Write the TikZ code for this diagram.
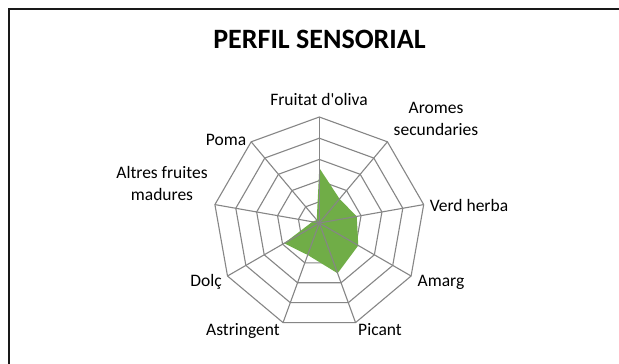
\documentclass[tikz,border=0pt]{standalone}
\usepackage{fontspec}
\setmainfont[Ligatures=TeXOff]{Carlito}
\definecolor{gridgray}{RGB}{134,134,134}
\definecolor{seriesgreen}{RGB}{112,173,71}
\definecolor{framegray}{RGB}{25,25,25}
\begin{document}
\begin{tikzpicture}[x=1pt,y=-1pt,
  gridline/.style={draw=gridgray,line width=1.1pt,line join=round},
  axlabel/.style={font=\fontsize{17.5}{21.7}\selectfont,anchor=base,align=center,inner sep=0pt},
  titlestyle/.style={font=\fontsize{28}{32}\selectfont\bfseries,anchor=base,inner sep=0pt}]
\useasboundingbox (0,0) rectangle (619,364);
\fill[white] (0,0) rectangle (619,364);
\draw[line width=2.4pt,framegray] (8.7,364) -- (8.7,9) -- (619,9);
\node[titlestyle] (title) at (319.5,48.3) {PERFIL SENSORIAL};
\coordinate (c) at (319.3,223);
\begin{scope}[shift={(c)}]
  \foreach \k in {1,...,5} {
    \draw[gridline] (-90:\k*21.2) \foreach \i in {1,...,8}{ -- (\i*40-90:\k*21.2)} -- cycle;
  }
  \foreach \i in {0,...,8} {
    \coordinate (a\i) at (\i*40-90:106);
  }
  \coordinate (d0) at (-90:55);
  \coordinate (d1) at (-50:31.5);
  \coordinate (d2) at (-10:38);
  \coordinate (d3) at (30:45);
  \coordinate (d4) at (70:53.5);
  \coordinate (d5) at (110:34);
  \coordinate (d6) at (150:40.6);
  \coordinate (d7) at (190:7);
  \coordinate (d8) at (230:4);
\end{scope}
\fill[seriesgreen] (d0) -- (d1) -- (d2) -- (d3) -- (d4) -- (d5) -- (d6) -- (d7) -- (d8) -- cycle;
\foreach \i in {0,...,8} {
  \draw[gridline] (c) -- (a\i);
}
\node[axlabel] (l0) at (319,105.7) {Fruitat d'oliva};
\node[axlabel] (l1) at (436,135) {Aromes\\secundaries};
\node[axlabel] (l2) at (469,211.7) {Verd herba};
\node[axlabel] (l3) at (441,286.7) {Amarg};
\node[axlabel] (l4) at (380,335) {Picant};
\node[axlabel] (l5) at (243,335) {Astringent};
\node[axlabel] (l6) at (206,286.7) {Dolç};
\node[axlabel] (l7) at (162,200) {Altres fruites\\madures};
\node[axlabel] (l8) at (226,145) {Poma};
\end{tikzpicture}
\end{document}
